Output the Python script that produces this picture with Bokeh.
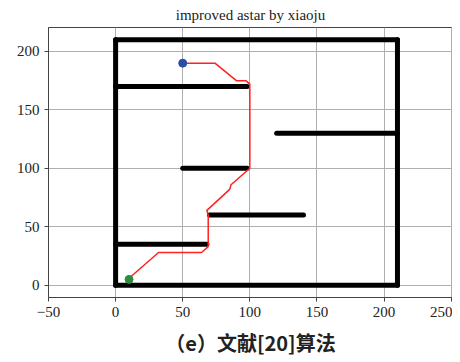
from bokeh.plotting import figure
from bokeh.models import Range1d, FixedTicker, Title
from bokeh.embed import file_html
from bokeh.resources import INLINE

# obstacle walls: (x0, y0, x1, y1)
wall_x0 = [0, 0, 210, 0, 0, 120, 50, 70, 0]
wall_y0 = [0, 210, 0, 0, 170, 130, 100, 60, 35]
wall_x1 = [210, 210, 210, 0, 98, 210, 98, 140, 68]
wall_y1 = [0, 210, 210, 210, 170, 130, 100, 60, 35]

# planned path
path_x = [10, 32, 64, 69, 69, 68, 85, 86, 99, 100, 100, 97, 90, 74, 50]
path_y = [6, 28, 28, 33, 60, 64, 82, 86, 99, 100, 172, 175, 175, 190, 190]

start = (10, 5)
goal = (50, 190)

x_ticks = [-50, 0, 50, 100, 150, 200, 250]
y_ticks = [0, 50, 100, 150, 200]

SERIF = "Liberation Serif"

p = figure(width=452, height=362, output_backend="svg", toolbar_location=None,
           x_range=Range1d(-50, 251), y_range=Range1d(-10.5, 220.5),
           min_border_left=48, min_border_right=0, min_border_top=27)

p.title.text = "improved astar by xiaoju"
p.title.text_font = SERIF
p.title.text_font_style = "normal"
p.title.text_font_size = "15px"
p.title.align = "center"
p.title.text_color = "#222222"
p.title.standoff = 9

cap = Title(text="（e）文献[20]算法", align="center", text_font="Noto Sans CJK SC",
            text_font_style="bold", text_font_size="20px", text_color="#222222",
            standoff=12)
p.add_layout(cap, "below")

for ax in (p.xaxis, p.yaxis):
    ax.major_label_text_font = SERIF
    ax.major_label_text_font_size = "15px"
    ax.major_label_text_color = "#222222"
    ax.axis_line_color = "#444444"
    ax.major_tick_line_color = "#444444"
    ax.major_tick_out = 4
    ax.major_tick_in = 0
    ax.minor_tick_line_color = None
p.xaxis.ticker = FixedTicker(ticks=x_ticks)
p.yaxis.ticker = FixedTicker(ticks=y_ticks)

p.grid.grid_line_color = "#b0b0b0"
p.grid.grid_line_width = 1
p.outline_line_color = "#444444"
p.outline_line_alpha = 1

p.segment(x0=wall_x0, y0=wall_y0, x1=wall_x1, y1=wall_y1,
          line_color="black", line_width=5, line_cap="round")

p.line(path_x, path_y, line_color="#ff2020", line_width=1.5)

p.scatter([start[0]], [start[1]], size=8, fill_color="#2e8b3e", line_color="#2e8b3e")
p.scatter([goal[0]], [goal[1]], size=8, fill_color="#2a4ea6", line_color="#2a4ea6")

open("out.html", "w").write(file_html(p, INLINE))
